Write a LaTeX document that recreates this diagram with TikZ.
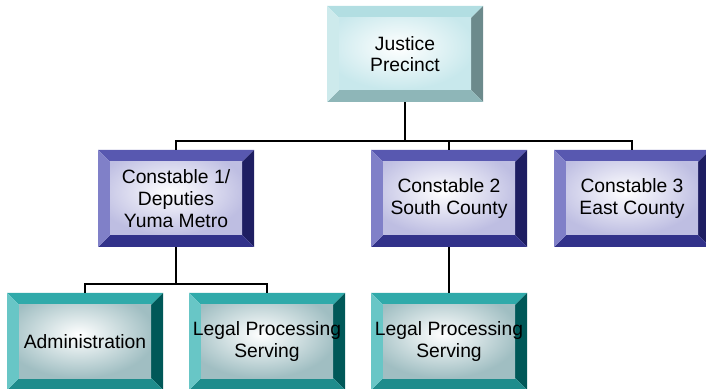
\documentclass[tikz,border=0pt]{standalone}
\usepackage{fontspec}
\setmainfont{Liberation Sans}
\usetikzlibrary{shadings}

\definecolor{tealTop}{RGB}{178,222,226}
\definecolor{tealLeft}{RGB}{205,234,236}
\definecolor{tealRight}{RGB}{108,138,140}
\definecolor{tealBottom}{RGB}{142,182,184}
\definecolor{tealFace}{RGB}{200,232,236}
\definecolor{blueTop}{RGB}{88,88,176}
\definecolor{blueLeft}{RGB}{128,128,200}
\definecolor{blueRight}{RGB}{30,30,98}
\definecolor{blueBottom}{RGB}{50,50,138}
\definecolor{blueFace}{RGB}{190,190,226}
\definecolor{greenTop}{RGB}{48,170,170}
\definecolor{greenLeft}{RGB}{104,198,198}
\definecolor{greenRight}{RGB}{0,88,88}
\definecolor{greenBottom}{RGB}{30,140,140}
\definecolor{greenFace}{RGB}{160,190,194}

\tikzset{
    bevel top/.store in=\bvTop,
    bevel left/.store in=\bvLeft,
    bevel right/.store in=\bvRight,
    bevel bottom/.store in=\bvBottom,
    bevel face/.store in=\bvFace,
    bevelbox/.style = {rectangle, minimum width=156pt, minimum height=97pt, inner sep=0pt, align=center,
        fill=white, font=\fontsize{19.3pt}{21.7pt}\selectfont,
        path picture={
            \path (path picture bounding box.north west) coordinate (bvOa)
                  (path picture bounding box.north east) coordinate (bvOb)
                  (path picture bounding box.south east) coordinate (bvOc)
                  (path picture bounding box.south west) coordinate (bvOd)
                  ([shift={(12pt,-12pt)}]path picture bounding box.north west) coordinate (bvIa)
                  ([shift={(-12pt,-12pt)}]path picture bounding box.north east) coordinate (bvIb)
                  ([shift={(-12pt,12pt)}]path picture bounding box.south east) coordinate (bvIc)
                  ([shift={(12pt,12pt)}]path picture bounding box.south west) coordinate (bvId);
            \fill[\bvTop] (bvOa) -- (bvOb) -- (bvIb) -- (bvIa) -- cycle;
            \fill[\bvRight] (bvOb) -- (bvOc) -- (bvIc) -- (bvIb) -- cycle;
            \fill[\bvBottom] (bvOc) -- (bvOd) -- (bvId) -- (bvIc) -- cycle;
            \fill[\bvLeft] (bvOd) -- (bvOa) -- (bvIa) -- (bvId) -- cycle;
            \begin{scope}
                \clip (bvIa) rectangle (bvIc);
                \shade[inner color=white, outer color=\bvFace] ([shift={(-16pt,14pt)}]bvIa) rectangle ([shift={(4pt,0pt)}]bvIc);
            \end{scope}
        }},
    headbox/.style = {bevelbox, minimum height=96pt, bevel top=tealTop, bevel left=tealLeft,
        bevel right=tealRight, bevel bottom=tealBottom, bevel face=tealFace},
    constbox/.style = {bevelbox, bevel top=blueTop, bevel left=blueLeft,
        bevel right=blueRight, bevel bottom=blueBottom, bevel face=blueFace},
    unitbox/.style = {bevelbox, bevel top=greenTop, bevel left=greenLeft,
        bevel right=greenRight, bevel bottom=greenBottom, bevel face=greenFace},
    link/.style = {line width=1.3pt, black}
}

\begin{document}
\begin{tikzpicture}[x=1pt, y=1pt]
\useasboundingbox (0,0) rectangle (706,388);

\node (precinct) [headbox] at (405,334) {Justice\\Precinct};
\node (const1) [constbox] at (176,189.5) {Constable 1/\\Deputies\\Yuma Metro};
\node (const2) [constbox] at (449,189.5) {Constable 2\\South County};
\node (const3) [constbox] at (632,189.5) {Constable 3\\East County};
\node (admin) [unitbox] at (85,46.5) {Administration};
\node (legal1) [unitbox] at (267,46.5) {Legal Processing\\Serving};
\node (legal2) [unitbox] at (449,46.5) {Legal Processing\\Serving};

\coordinate (busTop) at (405,247);
\coordinate (busLeft) at (176,104);

% Main flow
\draw [link] (precinct.south) -- (busTop);
\draw [link] (const1.north) |- (busTop) -| (const3.north);
\draw [link] (const2.north) -- (const2.north |- busTop);
\draw [link] (const1.south) -- (busLeft);
\draw [link] (admin.north) |- (busLeft) -| (legal1.north);
\draw [link] (const2.south) -- (legal2.north);

\end{tikzpicture}
\end{document}
